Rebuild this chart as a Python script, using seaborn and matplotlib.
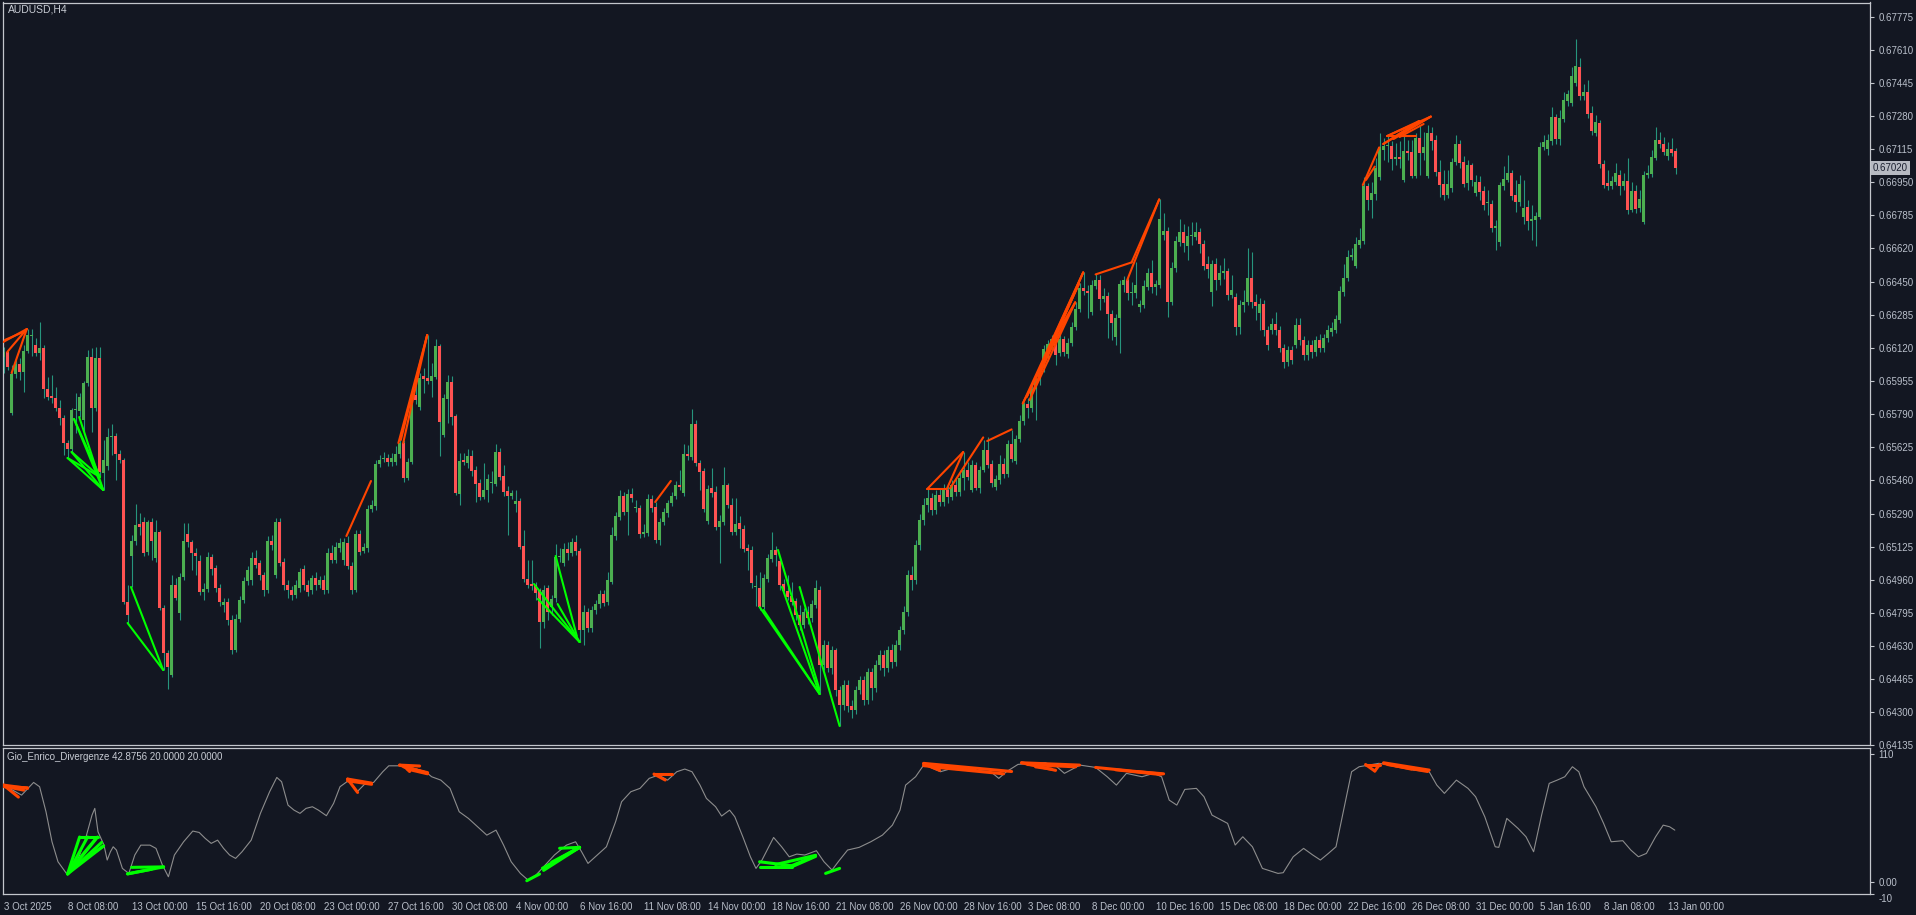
import numpy as np
import seaborn as sns
import matplotlib.pyplot as plt

# AUDUSD H4 candles, prices in points (x 1e-5)
O = [66075,66100,65795,65990,66040,66000,66105,66180,66135,66095,
     66120,65915,65880,65870,65820,65770,65645,65615,65810,65805,
     65760,65945,66075,65820,66070,65495,65530,65675,65680,65590,
     65560,64850,65080,65155,65240,65250,65100,65250,65070,65200,
     64820,64595,64485,64935,64795,64975,65190,65150,65095,65055,
     64900,64915,65075,65020,64920,64835,64850,64760,64610,64765,
     64860,64955,64960,65070,65045,64985,64910,65155,64985,65250,
     65050,64935,64910,64885,64920,65015,64935,64910,64970,64935,
     64960,64910,65095,65060,65120,65060,65145,65030,64910,65190,
     65105,65120,65315,65330,65540,65565,65570,65550,65550,65590,
     65645,65470,65550,65885,65825,65980,65970,65955,65975,66130,
     65685,65865,65950,65780,65390,65560,65545,65580,65510,65445,
     65375,65410,65445,65440,65600,65480,65405,65380,65340,65355,
     65130,64965,64940,64935,64910,64750,64920,64825,64870,65075,
     65045,65115,65095,65150,65105,64710,64800,64720,64810,64840,
     64890,64850,64950,65180,65275,65380,65300,65390,65320,65320,
     65190,65195,65365,65325,65160,65250,65295,65345,65380,65435,
     65395,65590,65575,65740,65545,65505,65255,65420,65400,65225,
     65250,65435,65335,65200,65245,65215,65120,65110,64925,64920,
     64825,64965,65065,65110,65055,64940,64905,64880,64855,64785,
     64735,64800,64770,64835,64910,64535,64635,64520,64610,64410,
     64335,64435,64330,64310,64410,64460,64360,64500,64420,64535,
     64585,64520,64610,64550,64635,64710,64800,64985,64960,65135,
     65260,65335,65370,65310,65385,65350,65410,65375,65435,65400,
     65470,65510,65410,65535,65420,65510,65610,65540,65425,65460,
     65540,65490,65640,65555,65665,65755,65840,65820,65915,65965,
     66020,66070,66125,66165,66095,66165,66090,66145,66225,66315,
     66420,66405,66300,66430,66460,66365,66380,66290,66175,66270,
     66435,66460,66395,66395,66325,66335,66425,66495,66425,66435,
     66685,66705,66350,66520,66650,66700,66630,66680,66675,66700,
     66640,66540,66400,66540,66460,66495,66505,66385,66375,66225,
     66335,66350,66470,66350,66295,66340,66210,66210,66240,66210,
     66120,66050,66110,66135,66235,66160,66085,66135,66100,66160,
     66120,66170,66200,66210,66260,66400,66470,66575,66530,66635,
     66655,66930,66860,66890,66975,67110,67130,67130,67065,67075,
     66960,67105,67100,66980,67170,67095,66980,67195,67160,67000,
     66940,66885,66920,67050,67140,67050,66945,67035,66895,66950,
     66905,66845,66840,66720,66650,66930,66960,66995,66885,66850,
     66775,66825,66755,66760,66775,67125,67115,67155,67275,67165,
     67265,67355,67345,67445,67525,67380,67400,67295,67195,67245,
     67040,66945,66930,66950,66985,66930,66955,66810,66905,66820,
     66750,66985,66990,67070,67160,67140,67080,67115,67105]
C = [66100,66025,65990,66040,66000,66105,66185,66185,66095,66120,
     65915,65875,65870,65820,65770,65645,65615,65810,65810,65875,
     65945,66075,65820,66070,65500,65560,65675,65675,65590,65560,
     64850,64785,65155,65235,65225,65095,65250,65155,65200,64820,
     64595,64525,64935,64870,64975,65155,65150,65095,65080,64900,
     64915,65075,65015,64920,64850,64850,64760,64610,64765,64860,
     64955,65010,65070,65035,64985,64910,65155,65135,65250,65045,
     64935,64910,64885,64935,65000,64935,64900,64970,64935,64960,
     64910,65095,65060,65125,65145,65150,65030,64910,65190,65100,
     65125,65315,65335,65540,65560,65570,65550,65570,65590,65645,
     65470,65550,65885,65860,65970,65965,65955,65980,66130,65750,
     65870,65950,65775,65395,65555,65550,65580,65505,65440,65375,
     65410,65465,65445,65600,65475,65400,65380,65395,65355,65125,
     64965,64935,64930,64895,64750,64910,64800,64865,65075,65080,
     65115,65095,65150,65105,64710,64800,64720,64810,64840,64890,
     64845,64960,65185,65280,65380,65300,65390,65370,65320,65190,
     65200,65365,65320,65160,65250,65300,65345,65380,65435,65425,
     65590,65580,65740,65545,65500,65315,65415,65395,65225,65255,
     65435,65335,65200,65240,65215,65115,65105,64945,64925,64825,
     64970,65070,65110,65085,64935,64905,64875,64850,64785,64735,
     64800,64770,64840,64920,64535,64635,64520,64610,64410,64335,
     64435,64330,64310,64410,64460,64360,64500,64420,64535,64585,
     64520,64610,64550,64635,64710,64800,64985,64960,65135,65260,
     65335,65370,65310,65385,65350,65410,65375,65435,65400,65470,
     65510,65475,65535,65420,65510,65610,65535,65445,65465,65540,
     65490,65640,65565,65665,65755,65840,65820,65915,65965,66020,
     66115,66140,66165,66085,66165,66100,66145,66225,66315,66420,
     66405,66395,66435,66460,66365,66380,66290,66245,66270,66440,
     66460,66395,66395,66435,66340,66430,66495,66425,66440,66765,
     66705,66350,66520,66655,66700,66645,66680,66680,66700,66640,
     66530,66515,66540,66460,66495,66505,66385,66410,66225,66335,
     66350,66470,66350,66330,66340,66210,66135,66240,66210,66120,
     66050,66110,66060,66235,66160,66085,66135,66100,66160,66120,
     66170,66210,66220,66265,66405,66470,66575,66585,66640,66660,
     66930,66860,66895,67020,67125,67130,67130,67065,67075,67065,
     67105,67095,66980,67170,67095,67125,67195,67155,67000,66935,
     66885,66940,67050,67140,67045,66940,67035,66960,66950,66900,
     66835,66845,66720,66730,66935,66965,66995,66880,66850,66940,
     66820,66755,66765,66780,67125,67150,67160,67275,67165,67270,
     67360,67390,67480,67530,67380,67400,67290,67205,67250,67040,
     66935,66930,66955,66995,66930,66955,66810,66905,66815,66865,
     66985,66995,67075,67160,67140,67100,67115,67095,67020]
H = [66125,66110,66035,66060,66070,66135,66215,66215,66170,66250,
     66135,65975,65985,65925,65860,65785,65660,65820,65895,65895,
     65955,66110,66120,66125,66125,65660,65720,65740,65695,65610,
     65570,64935,65185,65340,65295,65275,65260,65270,65260,65210,
     64835,64610,64985,64970,64995,65245,65245,65160,65120,65085,
     64945,65100,65090,65035,64940,64870,64870,64785,64790,64880,
     64975,65030,65100,65110,65060,65000,65180,65185,65270,65270,
     65070,64960,64930,64960,65020,65035,64960,64985,65000,64980,
     64985,65120,65135,65150,65170,65170,65180,65050,65210,65210,
     65145,65335,65360,65560,65585,65600,65590,65595,65630,65660,
     65660,65570,65900,65960,65995,66020,66185,66045,66165,66140,
     65890,65985,65980,65790,65595,65595,65615,65610,65530,65465,
     65545,65490,65505,65640,65620,65535,65430,65410,65410,65370,
     65210,65060,65060,64950,64920,64935,64935,64885,65140,65120,
     65145,65150,65170,65185,65120,64835,64820,64830,64860,64910,
     64910,65000,65225,65300,65410,65400,65415,65420,65360,65335,
     65240,65390,65385,65350,65270,65320,65360,65400,65455,65510,
     65640,65635,65815,65760,65560,65520,65435,65520,65430,65285,
     65525,65445,65370,65370,65280,65235,65140,65130,64985,65000,
     64990,65090,65200,65130,65075,64965,64985,64950,64870,64835,
     64820,64830,64860,64960,64930,64660,64655,64630,64620,64430,
     64460,64460,64360,64430,64480,64480,64520,64520,64560,64610,
     64610,64630,64640,64660,64730,64830,65010,65030,65160,65290,
     65370,65415,65395,65410,65420,65440,65430,65460,65470,65510,
     65600,65550,65560,65550,65530,65660,65675,65560,65485,65585,
     65570,65660,65710,65685,65785,65850,65870,65935,65985,66040,
     66135,66160,66185,66190,66195,66180,66170,66250,66350,66445,
     66500,66435,66460,66490,66485,66420,66400,66310,66290,66460,
     66480,66480,66450,66550,66360,66460,66520,66560,66460,66865,
     66795,66725,66550,66680,66765,66740,66730,66750,66750,66720,
     66660,66580,66560,66570,66535,66570,66520,66485,66395,66360,
     66410,66620,66600,66390,66370,66360,66230,66270,66300,66230,
     66140,66130,66130,66270,66270,66180,66160,66160,66180,66190,
     66190,66235,66250,66285,66430,66540,66610,66620,66675,66720,
     66975,66945,66950,67070,67195,67170,67190,67155,67145,67155,
     67185,67160,67160,67195,67230,67200,67235,67225,67185,67060,
     67010,67010,67070,67185,67160,67080,67060,67045,66985,66980,
     66930,66910,66860,66760,66950,67030,67085,67010,66960,66985,
     66960,66860,66835,66800,67150,67185,67190,67325,67290,67310,
     67400,67410,67525,67665,67570,67440,67460,67330,67285,67260,
     67060,67010,66980,67045,67010,66995,67070,66950,66935,66910,
     67005,67035,67110,67225,67200,67175,67150,67170,67120]
L = [65995,66010,65785,65970,65960,65900,66095,66080,66080,66060,
     65870,65860,65845,65805,65735,65585,65570,65600,65695,65775,
     65700,65930,65700,65805,65475,65410,65510,65585,65460,65545,
     64840,64745,64925,65135,65185,65080,65085,65060,65050,64810,
     64510,64415,64475,64860,64760,64960,65125,65010,64985,64885,
     64860,64900,64985,64900,64830,64800,64735,64590,64600,64750,
     64845,64935,64935,65020,64960,64880,64895,65110,64970,65030,
     64910,64870,64860,64870,64900,64910,64880,64890,64910,64920,
     64890,64895,65045,65045,65100,65035,65015,64890,64900,65085,
     65095,65100,65300,65310,65525,65550,65530,65530,65535,65570,
     65450,65460,65540,65840,65810,65895,65940,65875,65965,65580,
     65675,65745,65735,65385,65335,65535,65520,65480,65350,65360,
     65365,65350,65395,65430,65460,65380,65185,65365,65300,65115,
     64950,64920,64910,64860,64620,64720,64760,64785,64850,65050,
     65030,65060,65080,65085,64650,64635,64700,64700,64790,64820,
     64830,64835,64940,65160,65260,65285,65185,65350,65300,65170,
     65175,65180,65300,65145,65135,65235,65275,65330,65365,65410,
     65380,65560,65560,65530,65410,65300,65240,65375,65210,65045,
     65235,65320,65185,65185,65120,65100,65010,64920,64830,64810,
     64815,64950,65050,65030,64910,64890,64860,64835,64760,64710,
     64720,64740,64750,64820,64390,64510,64500,64490,64380,64230,
     64310,64300,64270,64290,64390,64335,64340,64360,64400,64510,
     64480,64500,64520,64530,64610,64690,64780,64910,64940,65110,
     65235,65300,65285,65290,65330,65330,65345,65360,65380,65380,
     65410,65460,65400,65410,65395,65500,65520,65425,65410,65440,
     65470,65475,65550,65540,65650,65735,65770,65800,65760,65935,
     66000,66055,66110,66035,66080,66080,66070,66130,66210,66300,
     66385,66270,66285,66415,66310,66350,66170,66160,66135,66095,
     66400,66360,66335,66370,66300,66320,66410,66395,66385,66420,
     66660,66275,66335,66500,66630,66600,66560,66635,66660,66595,
     66510,66470,66330,66410,66435,66465,66360,66370,66185,66190,
     66300,66335,66320,66260,66210,66180,66110,66190,66185,66100,
     66020,66030,66040,66120,66135,66060,66060,66070,66080,66100,
     66100,66150,66180,66195,66245,66380,66455,66560,66520,66620,
     66640,66810,66770,66860,66960,67060,67050,67010,67035,67020,
     66950,67060,66970,66970,66985,67060,66970,67110,66980,66875,
     66860,66870,66900,67035,67020,66925,66910,66930,66880,66860,
     66810,66785,66700,66610,66630,66910,66950,66860,66800,66830,
     66740,66710,66660,66630,66765,67110,67085,67135,67140,67135,
     67250,67330,67330,67430,67360,67360,67270,67185,67180,67020,
     66920,66910,66915,66935,66885,66910,66790,66800,66795,66800,
     66740,66970,66975,67060,67120,67085,67060,67080,66990]

# oscillator of the lower window (bar index, value)
osc_bar = [0, 4.5, 7.5, 9.0, 10.6, 12.1, 13.6, 15.9, 17.5, 19.0, 20.5, 22.1, 22.8, 23.6, 25.1,
           25.9, 26.7, 27.4, 28.2, 29.7, 31.3, 32.8, 34.3, 36.6, 38.1, 39.7, 41.2, 42.7, 45.0, 47.3,
           48.9, 50.4, 51.9, 53.5, 55.0, 56.5, 58.0, 59.6, 61.9, 64.2, 66.5, 68.3, 69.5, 71.1, 72.6,
           74.1, 75.6, 77.2, 78.7, 80.7, 82.5, 84.1, 86.4, 88.4, 90.2, 92.5, 94.8, 96.3, 98.6, 100.9,
           103.2, 105.5, 107.0, 109.3, 111.6, 113.9, 116.2, 118.5, 120.8, 123.1, 125.0, 126.9, 129.2,
           131.1, 133.1, 135.4, 137.7, 140.7, 143.0, 144.5, 146.1, 148.4, 150.7, 153.0, 154.5, 156.8,
           159.1, 161.4, 163.7, 166.0, 168.3, 170.3, 172.1,
           174.1, 175.7, 178.0, 179.5, 181.5, 182.8, 184.8, 186.7, 188.1, 189.6, 192.5, 194.5, 196.4,
           198.3, 200.3, 203.2, 205.1, 207.1, 209.0, 211.0, 213.9, 216.8, 219.7, 222.2, 224.1, 225.5,
           228.0, 230.3, 232.3, 234.2, 237.1, 240.0, 243.9, 246.8, 248.8, 250.7, 253.6, 256.5, 260.4,
           263.3, 265.2, 269.1, 273.0, 275.9, 278.2, 280.7, 284.6, 287.5, 289.5, 291.4, 293.3, 295.3,
           298.2, 300.1, 302.1, 306.0, 307.9, 309.8, 312.2, 314.7, 318.6, 319.9, 322.4, 325.0, 327.3,
           329.2, 331.2, 333.1, 335.0, 337.0, 338.9, 341.2, 343.8, 346.7, 349.6, 352.5, 356.4, 358.3,
           360.2, 363.2, 366.1, 368.0, 370.3, 372.9, 373.8, 375.8, 378.6, 380.6, 382.5, 384.5, 386.4,
           388.4, 390.3, 392.2, 393.8, 395.1, 398.1, 400.0, 401.9, 404.8, 406.8, 408.7, 410.7, 413.0,
           414.9, 416.5, 417.8]
osc_val = [83.3, 74.7, 85.6, 81.9, 60.4, 34.6, 17.4, 6.5, 11.7, 23.2, 37.5, 57.5, 63.3, 43.2, 31.7,
           18.9, 26.0, 30.3, 27.5, 11.7, 7.4, 23.2, 31.7, 31.7, 28.9, 14.6, 4.5, 23.2, 34.6, 43.8,
           42.6, 37.5, 33.2, 36.0, 28.9, 23.2, 20.3, 26.0, 36.0, 59.0, 77.6, 89.9, 86.2, 66.1, 61.8,
           59.0, 63.3, 64.7, 61.8, 57.0, 67.6, 81.9, 87.6, 77.6, 83.9, 85.6, 94.8, 99.9, 99.9, 99.1,
           97.1, 94.8, 90.5, 87.6, 80.5, 60.4, 54.7, 47.5, 40.3, 44.6, 31.7, 17.4, 7.4,
           1.7, 6.0, 14.6, 23.2, 31.7, 34.6, 26.0, 16.0, 23.2, 30.3, 51.8, 69.0, 77.6,
           80.5, 89.1, 91.9, 87.6, 94.8, 97.1, 94.8,
           83.3, 71.9, 64.7, 56.7, 61.8, 56.1, 38.9, 21.7, 11.7, 18.9, 38.3, 30.3, 21.7,
           24.0, 23.2, 26.9, 17.4, 10.3, 18.9, 27.5, 29.8, 34.6, 40.3, 48.9, 61.8, 83.3,
           90.5, 101.9, 97.7, 94.8, 97.7, 96.2, 95.6, 94.8, 89.1, 94.8, 101.1, 102.0, 102.5,
           99.1, 93.4, 100.5, 98.5, 90.5, 83.3, 93.4, 90.5, 93.4, 90.5, 70.4, 66.1, 79.6,
           80.5, 73.3, 57.5, 50.4, 31.8, 38.9, 30.3, 11.7, 7.4, 8.0, 21.7, 28.9, 23.2,
           18.9, 24.6, 30.3, 61.8, 94.8, 99.1, 100.5, 102.0, 100.5, 99.1, 96.2, 94.8, 83.3,
           76.2, 87.6, 80.5, 73.3, 56.1, 30.3, 29.8, 54.7, 46.1, 38.9, 26.0, 57.5, 84.8,
           87.6, 90.5, 99.1, 94.8, 81.9, 64.7, 50.4, 34.6, 35.5, 27.5, 21.7, 24.6, 38.9,
           48.9, 47.5, 44.6]

# divergence segments in the price window: (bar1, points1, bar2, points2)
div_bear = [(-0.1, 66150, 5.8, 66215), (0.9, 66100, 5.8, 66215), (2.0, 65995, 5.8, 66215), (0.3, 66160, 5.5, 66205),
            (85.7, 65180, 91.85, 65455),
            (98.7, 65645, 105.9, 66185), (99.9, 65645, 105.9, 66185), (99.3, 65660, 105.9, 66185),
            (162.9, 65350, 166.8, 65455),
            (230.9, 65415, 239.9, 65600), (230.9, 65415, 235.8, 65415), (235.8, 65415, 239.9, 65600),
            (236.6, 65418, 244.9, 65673), (245.9, 65655, 252.0, 65713),
            (254.8, 65843, 269.9, 66498), (254.8, 65843, 267.9, 66348), (255.8, 65876, 268.9, 66443),
            (255.8, 65876, 269.9, 66498), (256.5, 65860, 267.9, 66348), (257.0, 65890, 269.9, 66498),
            (260.8, 66093, 268.9, 66443), (262.0, 66150, 267.9, 66348),
            (273.0, 66488, 282.0, 66548), (280.9, 66460, 288.9, 66863), (282.0, 66548, 288.9, 66863),
            (339.8, 66935, 343.9, 67123), (340.6, 66960, 342.8, 67027), (344.9, 67140, 356.8, 67277),
            (345.9, 67180, 356.8, 67277), (345.9, 67180, 353.9, 67255), (344.9, 67140, 353.9, 67255),
            (345.9, 67182, 353.0, 67182), (347.5, 67165, 356.8, 67277), (349.0, 67175, 355.0, 67240)]
div_bull = [(16.0, 65570, 24.9, 65410), (17.0, 65600, 24.9, 65410), (16.0, 65570, 24.1, 65475),
            (17.0, 65600, 24.1, 65475), (17.6, 65765, 24.9, 65410), (18.9, 65775, 24.9, 65410),
            (17.6, 65765, 24.1, 65475),
            (31.0, 64745, 39.9, 64510), (31.85, 64925, 39.9, 64510),
            (132.6, 64940, 144.0, 64650), (133.6, 64865, 144.0, 64650), (138.0, 65080, 143.3, 64680),
            (138.5, 64840, 144.0, 64650),
            (189.0, 64825, 204.0, 64390), (190.0, 64810, 204.0, 64390), (193.6, 65110, 204.0, 64410),
            (194.6, 64925, 204.0, 64390), (199.0, 64925, 209.0, 64230)]

# divergence segments in the oscillator window: (bar1, value1, bar2, value2)
sub_bear = [(0, 83.3, 6, 80.5), (0, 83.3, 3.7, 73), (0, 82, 6, 81), (0.5, 82, 5, 79),
            (86, 88.5, 92, 85), (86, 88.5, 88.5, 77), (86, 87, 92, 84),
            (99, 100.5, 104, 99.7), (99, 100.5, 106, 93.4), (100, 100, 101.5, 95), (100, 99, 106, 94),
            (101, 97, 106, 93),
            (162.6, 92.8, 167, 92.8), (162.6, 92.8, 165.4, 87.7),
            (230, 102, 252, 95), (230, 100, 243, 96), (232, 99, 250, 93), (230, 101.5, 234, 96),
            (254.5, 102.5, 269, 100.5), (254.5, 102.5, 263, 96), (256, 101, 268, 99), (258, 99, 262, 97),
            (273, 98.5, 289.5, 92.8), (278, 96.5, 289, 92.5), (283, 95, 290, 93),
            (340.5, 101, 344, 101), (340.5, 101, 342.8, 95.4), (342.8, 95.4, 344, 101),
            (345, 102.5, 356.4, 96.2), (346, 101, 356, 95), (348, 100, 354, 97), (345, 102, 352, 97)]
sub_bull = [(16, 7, 19, 38.7), (16, 7, 21, 38.7), (16, 7, 23.5, 38.7), (16, 7, 25, 31), (16, 7, 24.5, 34),
            (17, 12, 25, 31), (17, 12, 23, 37), (19, 38.7, 23.5, 38.7),
            (31, 7, 40, 13), (32, 12.6, 40, 13), (31, 7, 37, 11),
            (130.8, 1.1, 134, 6.9), (134.7, 11.8, 144, 29.8), (135, 10, 144, 29.8), (136, 14, 144, 29.8),
            (139, 29, 144, 29.8), (137, 17, 143, 28),
            (189, 17.4, 197, 14), (189, 13, 197, 13), (197, 13, 203, 22), (193, 15, 203, 23),
            (197, 14, 203, 22.5), (205.5, 7.4, 209, 11.7)]

price_ticks = [0.67775, 0.67610, 0.67445, 0.67280, 0.67115, 0.66950, 0.66785, 0.66620, 0.66450,
               0.66285, 0.66120, 0.65955, 0.65790, 0.65625, 0.65460, 0.65290, 0.65125, 0.64960,
               0.64795, 0.64630, 0.64465, 0.64300, 0.64135]
date_labels = ["3 Oct 2025", "8 Oct 08:00", "13 Oct 00:00", "15 Oct 16:00", "20 Oct 08:00",
               "23 Oct 00:00", "27 Oct 16:00", "30 Oct 08:00", "4 Nov 00:00", "6 Nov 16:00",
               "11 Nov 08:00", "14 Nov 00:00", "18 Nov 16:00", "21 Nov 08:00", "26 Nov 00:00",
               "28 Nov 16:00", "3 Dec 08:00", "8 Dec 00:00", "10 Dec 16:00", "15 Dec 08:00",
               "18 Dec 00:00", "22 Dec 16:00", "26 Dec 08:00", "31 Dec 00:00", "5 Jan 16:00",
               "8 Jan 08:00", "13 Jan 00:00"]
last_price = 0.67020

sns.set_theme(style="dark")
plt.rcParams['font.family'] = ['Liberation Sans Narrow', 'Liberation Sans', 'DejaVu Sans']

BG = '#131722'
FRAME = '#c3c6cc'
TXT = '#b9bfca'
BULL = '#4caf50'
BEAR = '#ff5252'
WICK = '#26957d'
ORANGE = '#ff4500'
LIME = '#00ff00'

o = np.array(O) / 1e5
c = np.array(C) / 1e5
h = np.array(H) / 1e5
l = np.array(L) / 1e5
idx = np.arange(len(o))

W, Hpx = 1916, 915
fig = plt.figure(figsize=(W / 100, Hpx / 100), dpi=100, facecolor=BG)
ax = fig.add_axes([2.5 / W, 1 - 745 / Hpx, (1870 - 2.5) / W, (745 - 2.5) / Hpx])
ax2 = fig.add_axes([2.5 / W, 1 - 894 / Hpx, (1870 - 2.5) / W, (894 - 748) / Hpx])

for a in (ax, ax2):
    a.set_facecolor(BG)
    a.grid(False)
    for s in a.spines.values():
        s.set_color(FRAME)
        s.set_linewidth(0.9)
    a.set_xlim(-0.275, 466.6)

# candles
up = c >= o
ax.vlines(idx, l, h, color=WICK, linewidth=0.8, zorder=1)
bottom = np.minimum(o, c)
body = np.maximum(np.abs(c - o), 0.00005)
ax.bar(idx[up], body[up], bottom=bottom[up], width=0.78, color=BULL, linewidth=0, zorder=2)
ax.bar(idx[~up], body[~up], bottom=bottom[~up], width=0.78, color=BEAR, linewidth=0, zorder=2)

for x1, p1, x2, p2 in div_bear:
    ax.plot([x1, x2], [p1 / 1e5, p2 / 1e5], color=ORANGE, lw=1.5, zorder=3)
for x1, p1, x2, p2 in div_bull:
    ax.plot([x1, x2], [p1 / 1e5, p2 / 1e5], color=LIME, lw=1.5, zorder=3)

ax.set_ylim(0.64135, 0.678475)
ax.yaxis.tick_right()
ax.set_yticks(price_ticks)
ax.set_yticklabels([f"{v:.5f}" for v in price_ticks])
ax.set_xticks([])
ax.tick_params(axis='y', direction='out', length=3, width=0.8, color=FRAME,
               labelsize=7, labelcolor=TXT, pad=3)

# oscillator window
sns.lineplot(x=osc_bar, y=osc_val, ax=ax2, color='#8d8d8d', linewidth=0.8,
             estimator=None, sort=False)
for x1, v1, x2, v2 in sub_bear:
    ax2.plot([x1, x2], [v1, v2], color=ORANGE, lw=2.2, zorder=3)
for x1, v1, x2, v2 in sub_bull:
    ax2.plot([x1, x2], [v1, v2], color=LIME, lw=2.2, zorder=3)

ax2.set_ylim(-10.3, 115.2)
ax2.yaxis.tick_right()
ax2.set_yticks([110, 0, -10])
ax2.set_yticklabels(['110', '0.00', '-10'])
ax2.get_yticklabels()[2].set_va('top')
ax2.set_xticks([16 * k for k in range(len(date_labels))])
ax2.set_xticklabels(date_labels, ha='left')
ax2.set_xlabel('')
ax2.set_ylabel('')
ax2.tick_params(axis='y', direction='out', length=3, width=0.8, color=FRAME,
                labelsize=7, labelcolor=TXT, pad=3)
ax2.tick_params(axis='x', direction='out', length=4, width=0.8, color=FRAME,
                labelsize=7, labelcolor=TXT, pad=2)

# texts
fig.text(8 / W, 1 - 10 / Hpx, 'AUDUSD,H4', color='#c8ccd4', fontsize=7.5, va='center', ha='left')
fig.text(7 / W, 1 - 757 / Hpx, 'Gio_Enrico_Divergenze 42.8756 20.0000 20.0000',
         color='#c8ccd4', fontsize=7, va='center', ha='left')
y_lp = (last_price - 0.64135) / (0.678475 - 0.64135)
ax.text(1.0016, y_lp, f"{last_price:.5f}", transform=ax.transAxes, fontsize=7,
        color='#1b2030', va='center', ha='left',
        bbox=dict(boxstyle='square,pad=0.2', fc='#b7bac2', ec='none'))

fig.savefig('out.png', dpi=100, facecolor=BG)
